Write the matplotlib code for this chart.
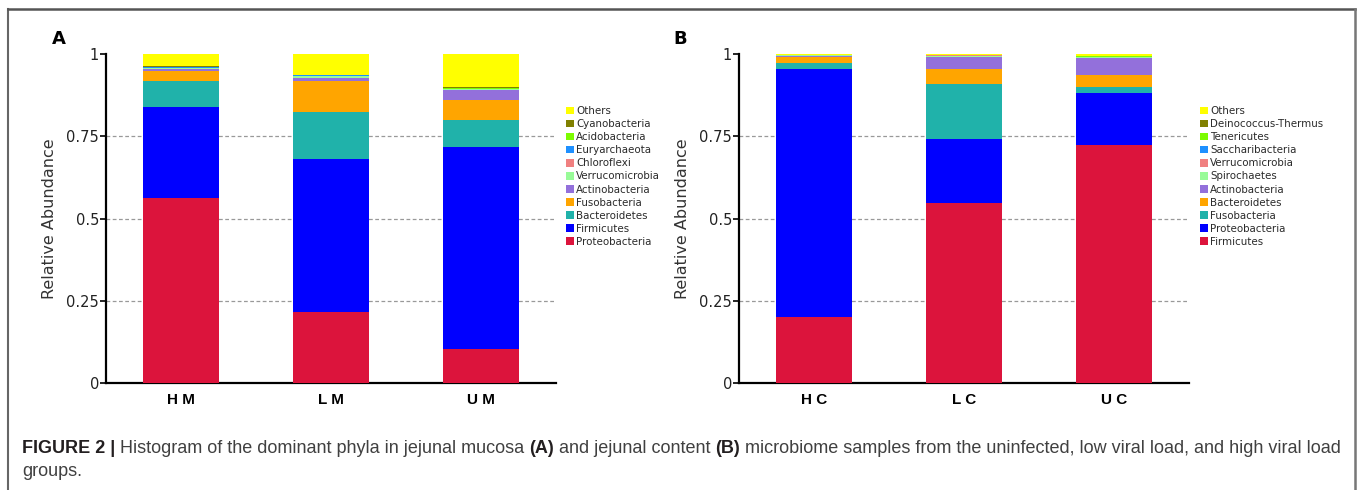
import matplotlib
matplotlib.use("Agg")
import matplotlib.pyplot as plt
from matplotlib.patches import Patch
from matplotlib.lines import Line2D

# panel A - jejunal mucosa
groups_a = ["H M", "L M", "U M"]
phyla_a = ["Proteobacteria", "Firmicutes", "Bacteroidetes", "Fusobacteria", "Actinobacteria",
           "Verrucomicrobia", "Chloroflexi", "Euryarchaeota", "Acidobacteria", "Cyanobacteria", "Others"]
vals_a = {
    "Proteobacteria":  [0.562, 0.216, 0.103],
    "Firmicutes":      [0.277, 0.466, 0.613],
    "Bacteroidetes":   [0.080, 0.142, 0.084],
    "Fusobacteria":    [0.030, 0.095, 0.059],
    "Actinobacteria":  [0.006, 0.007, 0.032],
    "Verrucomicrobia": [0.002, 0.006, 0.002],
    "Chloroflexi":     [0.001, 0.001, 0.001],
    "Euryarchaeota":   [0.001, 0.002, 0.001],
    "Acidobacteria":   [0.001, 0.001, 0.001],
    "Cyanobacteria":   [0.003, 0.001, 0.004],
    "Others":          [0.037, 0.063, 0.100],
}

# panel B - jejunal content
groups_b = ["H C", "L C", "U C"]
phyla_b = ["Firmicutes", "Proteobacteria", "Fusobacteria", "Bacteroidetes", "Actinobacteria",
           "Spirochaetes", "Verrucomicrobia", "Saccharibacteria", "Tenericutes", "Deinococcus-Thermus", "Others"]
vals_b = {
    "Firmicutes":          [0.200, 0.547, 0.722],
    "Proteobacteria":      [0.754, 0.195, 0.159],
    "Fusobacteria":        [0.018, 0.167, 0.019],
    "Bacteroidetes":       [0.018, 0.045, 0.037],
    "Actinobacteria":      [0.005, 0.038, 0.051],
    "Spirochaetes":        [0.001, 0.001, 0.002],
    "Verrucomicrobia":     [0.001, 0.003, 0.001],
    "Saccharibacteria":    [0.000, 0.000, 0.001],
    "Tenericutes":         [0.000, 0.000, 0.002],
    "Deinococcus-Thermus": [0.000, 0.000, 0.001],
    "Others":              [0.003, 0.004, 0.005],
}

colors = ["#DC143C", "#0000FF", "#20B2AA", "#FFA500", "#9370DB", "#98FB98",
          "#F08080", "#1E90FF", "#7CFC00", "#808000", "#FFFF00"]

W, H = 1358, 490
fig = plt.figure(figsize=(W / 100, H / 100), dpi=100)


def panel(rect, groups, phyla, vals, leg_xy):
    ax = fig.add_axes(rect)
    x = list(range(len(groups)))
    bottom = [0.0] * len(groups)
    for name, c in zip(phyla, colors):
        v = vals[name]
        ax.bar(x, v, width=0.507, bottom=bottom, color=c, edgecolor="none", zorder=3)
        bottom = [b + vv for b, vv in zip(bottom, v)]
    ax.set_xlim(-0.5, 2.5)
    ax.set_ylim(0, 1)
    ax.set_yticks([0, 0.25, 0.5, 0.75, 1])
    ax.set_yticklabels(["0", "0.25", "0.5", "0.75", "1"], fontsize=10.5, color="#222222")
    ax.set_xticks(x)
    ax.set_xticklabels(groups, fontsize=11, fontweight="bold", family="Liberation Sans")
    ax.tick_params(axis="x", length=0, pad=7)
    ax.tick_params(axis="y", length=4, width=1.2, pad=1)
    for y in [0.25, 0.5, 0.75]:
        ax.axhline(y, color="#999999", lw=0.9, ls=(0, (3, 2)), zorder=1)
    for s in ["top", "right"]:
        ax.spines[s].set_visible(False)
    for s in ["left", "bottom"]:
        ax.spines[s].set_linewidth(1.6)
    ax.set_ylabel("Relative Abundance", fontsize=11.5, color="#333333", labelpad=7)
    handles = [Patch(facecolor=c, edgecolor="none", label=n) for n, c in zip(phyla, colors)]
    fig.legend(handles=handles[::-1], loc="upper left", bbox_to_anchor=leg_xy,
               frameon=False, fontsize=7.4, handlelength=0.75, handleheight=0.75,
               handletextpad=0.25, labelspacing=0.3, borderpad=0, borderaxespad=0,
               labelcolor="#2a2a2a")
    return ax


ax_a = panel([106 / W, 1 - 383 / H, 450 / W, 329 / H], groups_a, phyla_a, vals_a,
             (566 / W, 1 - 106 / H))
ax_b = panel([739 / W, 1 - 383 / H, 450 / W, 329 / H], groups_b, phyla_b, vals_b,
             (1200 / W, 1 - 106 / H))

fig.text(52 / W, 1 - 44 / H, "A", fontsize=13, fontweight="bold")
fig.text(673 / W, 1 - 44 / H, "B", fontsize=13, fontweight="bold")

# outer frame (left, top, right)
fig.add_artist(Line2D([8 / W, 8 / W], [0, 1 - 9 / H], color="#666666", lw=1.5))
fig.add_artist(Line2D([8 / W, 1355 / W], [1 - 9 / H, 1 - 9 / H], color="#555555", lw=1.8))
fig.add_artist(Line2D([1355 / W, 1355 / W], [0, 1 - 9 / H], color="#777777", lw=1.8))

# caption with mixed bold pieces
pieces1 = [("FIGURE 2 |", "bold", "#231f20"),
           ("Histogram of the dominant phyla in jejunal mucosa", "normal", "#404040"),
           ("(A)", "bold", "#231f20"),
           ("and jejunal content", "normal", "#404040"),
           ("(B)", "bold", "#231f20"),
           ("microbiome samples from the uninfected, low viral load, and high viral load", "normal", "#404040")]
cap_fs = 13
r = fig.canvas.get_renderer()
t1 = fig.text(0, 0, "a b", fontsize=cap_fs, family="Liberation Sans")
t2 = fig.text(0, 0, "ab", fontsize=cap_fs, family="Liberation Sans")
space = t1.get_window_extent(r).width - t2.get_window_extent(r).width
t1.remove()
t2.remove()
xpos = 22
for txt, wt, col in pieces1:
    t = fig.text(xpos / W, 1 - 453 / H, txt, fontsize=cap_fs, fontweight=wt, color=col,
                 family="Liberation Sans")
    xpos = t.get_window_extent(r).x1 + space
fig.text(22 / W, 1 - 476 / H, "groups.", fontsize=cap_fs, color="#404040", family="Liberation Sans")

fig.savefig("out.png", dpi=100)
